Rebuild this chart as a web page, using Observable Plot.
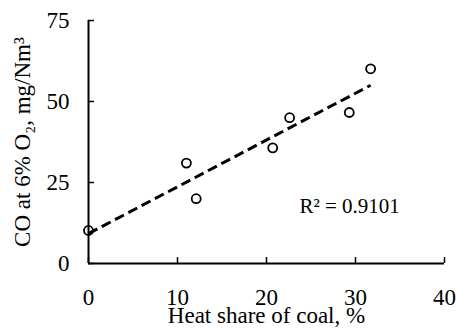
<!DOCTYPE html>
<html>
<head>
<meta charset="utf-8">
<script src="https://cdn.jsdelivr.net/npm/d3@7"></script>
<script src="https://cdn.jsdelivr.net/npm/@observablehq/plot@0.6"></script>
<style>
  html, body { margin: 0; padding: 0; background: #fff; }
  #chart svg { display: block; }
  #chart svg g[aria-label$="tick label"] text { font-size: 23px !important; }
</style>
</head>
<body>
<div id="chart"></div>
<script>
const heatShare = [0, 11.0, 12.1, 20.7, 22.6, 29.3, 31.7];
const coValues  = [10.2, 31.0, 20.0, 35.7, 45.0, 46.6, 60.1];
const xTicks = [0, 10, 20, 30, 40];
const yTicks = [0, 25, 50, 75];
const xTitle = "Heat share of coal, %";
const yTitle = "CO at 6% O₂, mg/Nm³";
const r2Label = ["R² = 0.9101"];

const data = heatShare.map((x, i) => ({x, y: coValues[i]}));

const font = "'Liberation Serif', 'Times New Roman', serif";

const chart = Plot.plot({
  width: 456,
  height: 334,
  marginLeft: 88,
  marginRight: 12,
  marginTop: 20,
  marginBottom: 71,
  style: {fontFamily: font, fontSize: "23px", color: "#000", background: "#fff"},
  x: {domain: [0, 40]},
  y: {domain: [0, 75]},
  marks: [
    Plot.axisX({ticks: xTicks, tickSize: -6, tickPadding: 31, strokeWidth: 1.5, fontSize: 23,
      label: xTitle, labelAnchor: "center", labelOffset: 59, labelArrow: "none"}),
    Plot.axisY({ticks: yTicks, tickSize: -6, tickPadding: 25, strokeWidth: 1.5, fontSize: 23,
      label: yTitle, labelAnchor: "center", labelOffset: 75, labelArrow: "none"}),
    Plot.ruleX([0], {stroke: "#000", strokeWidth: 2}),
    Plot.ruleY([0], {stroke: "#000", strokeWidth: 2}),
    Plot.linearRegressionY(data, {x: "x", y: "y", ci: 0, stroke: "#000", strokeWidth: 3,
      strokeDasharray: "10,5", strokeLinecap: "butt"}),
    Plot.dot(data, {x: "x", y: "y", r: 4.5, stroke: "#000", strokeWidth: 1.8, fill: "none"}),
    Plot.text(r2Label, {x: () => 23.7, y: () => 17.7, text: d => d, textAnchor: "start",
      lineAnchor: "middle", fontSize: 21, fill: "#000"})
  ]
});
document.getElementById("chart").appendChild(chart);
</script>
</body>
</html>
